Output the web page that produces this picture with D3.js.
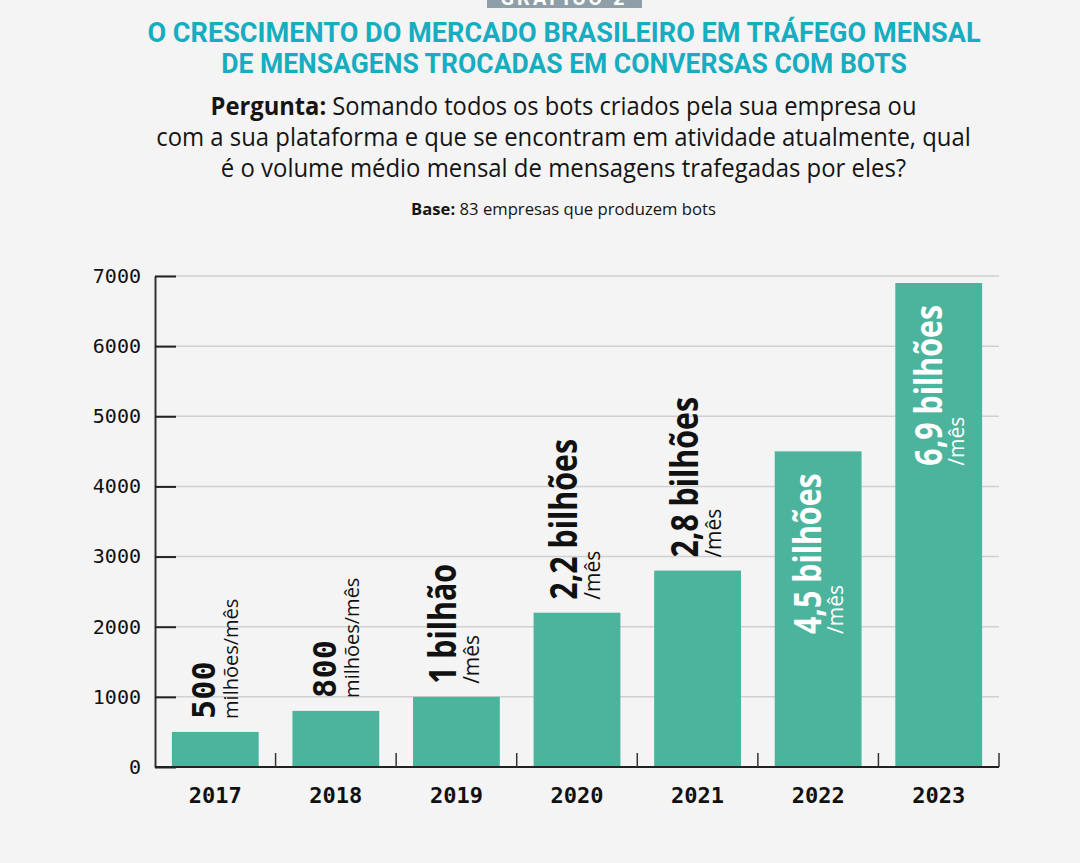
<!DOCTYPE html>
<html>
<head>
<meta charset="utf-8">
<script src="https://cdn.jsdelivr.net/npm/d3@7"></script>
<style>
  html, body { margin: 0; padding: 0; background: #f4f4f4; }
  svg { display: block; }
</style>
</head>
<body>
<svg id="chart" width="1080" height="863"></svg>
<script>
// ---- data ----
const years = ["2017", "2018", "2019", "2020", "2021", "2022", "2023"];
const values = [500, 800, 1000, 2200, 2800, 4500, 6900];
const bigLabels = ["500", "800", "1 bilhão", "2,2 bilhões", "2,8 bilhões", "4,5 bilhões", "6,9 bilhões"];
const unitLabels = ["milhões/mês", "milhões/mês", "/mês", "/mês", "/mês", "/mês", "/mês"];
const yTicks = [0, 1000, 2000, 3000, 4000, 5000, 6000, 7000];
const titleLines = ["O CRESCIMENTO DO MERCADO BRASILEIRO EM TRÁFEGO MENSAL",
                    "DE MENSAGENS TROCADAS EM CONVERSAS COM BOTS"];
const questionLines = [
  [["Pergunta:", true], [" Somando todos os bots criados pela sua empresa ou", false]],
  [["com a sua plataforma e que se encontram em atividade atualmente, qual", false]],
  [["é o volume médio mensal de mensagens trafegadas por eles?", false]]
];
const baseLine = [["Base:", true], [" 83 empresas que produzem bots", false]];
const badgeText = "GRÁFICO 2";

// ---- setup ----
const svg = d3.select("#chart");
svg.append("rect").attr("width", 1080).attr("height", 863).attr("fill", "#f4f4f4");

const TEAL = "#4cb39c";
const x = d3.scaleBand().domain(years).range([155, 999]).paddingInner(0.28).paddingOuter(0.14);
const y = d3.scaleLinear().domain([0, 7000]).range([767, 276]);

// badge at top (cropped by the page edge, as in the original)
svg.append("rect").attr("x", 487).attr("y", -20).attr("width", 155).attr("height", 28).attr("fill", "#8e9fa8");
svg.append("text").attr("x", 564).attr("y", 5).attr("text-anchor", "middle")
  .attr("font-family", "Roboto").attr("font-weight", 700).attr("font-size", 20)
  .attr("letter-spacing", 3).attr("fill", "#fff").text(badgeText);

function fitLine(g, cx, cy, target) {
  const w = g.node().getBBox().width;
  g.attr("transform", `translate(${cx},${cy}) scale(${target / w},1)`);
}

// title
const titleTargets = [834, 686];
titleLines.forEach((t, i) => {
  const g = svg.append("g");
  g.append("text").attr("text-anchor", "middle")
    .attr("font-family", "Roboto").attr("font-weight", 700).attr("font-size", 27)
    .attr("fill", "#17adc1").text(t);
  fitLine(g, 564, 42 + i * 30.5, titleTargets[i]);
});

// question
const qTargets = [706, 815, 686];
questionLines.forEach((parts, i) => {
  const g = svg.append("g");
  const t = g.append("text").attr("text-anchor", "middle")
    .attr("font-family", "Open Sans").attr("font-size", 25).attr("fill", "#151515");
  parts.forEach(p => t.append("tspan").attr("font-weight", p[1] ? 700 : 400).text(p[0]));
  fitLine(g, 563.5, 115 + i * 31, qTargets[i]);
});

// base
{
  const g = svg.append("g");
  const t = g.append("text").attr("text-anchor", "middle")
    .attr("font-family", "Open Sans").attr("font-size", 16).attr("fill", "#151515");
  baseLine.forEach(p => t.append("tspan").attr("font-weight", p[1] ? 700 : 400).text(p[0]));
  fitLine(g, 563.5, 215, 305);
}

// gridlines
svg.append("g").selectAll("line").data(yTicks.filter(d => d > 0)).join("line")
  .attr("x1", 155).attr("x2", 999)
  .attr("y1", d => y(d)).attr("y2", d => y(d))
  .attr("stroke", "#d0d0d0").attr("stroke-width", 1.5);

// bars
svg.append("g").selectAll("rect").data(years).join("rect")
  .attr("x", d => x(d)).attr("width", x.bandwidth())
  .attr("y", (d, i) => y(values[i])).attr("height", (d, i) => y(0) - y(values[i]))
  .attr("fill", TEAL);

// y axis
const yAxis = svg.append("g").attr("transform", "translate(155,0)")
  .call(d3.axisLeft(y).tickValues(yTicks).tickSize(-21).tickSizeOuter(0).tickPadding(14).tickFormat(d3.format("d")));
yAxis.select(".domain").attr("stroke", "#333").attr("stroke-width", 2);
yAxis.selectAll(".tick line").attr("stroke", "#222").attr("stroke-width", 2);
yAxis.selectAll(".tick text").attr("font-family", "DejaVu Sans Mono").attr("font-weight", 400)
  .attr("font-size", 20).attr("fill", "#111");

// x axis labels
const xAxis = svg.append("g").attr("transform", "translate(0,767)")
  .call(d3.axisBottom(x).tickSize(0).tickPadding(20));
xAxis.select(".domain").remove();
xAxis.selectAll(".tick text").attr("font-family", "DejaVu Sans Mono").attr("font-weight", 700)
  .attr("font-size", 22).attr("fill", "#111");

// baseline and boundary ticks
svg.append("line").attr("x1", 155).attr("x2", 999).attr("y1", 767).attr("y2", 767)
  .attr("stroke", "#222").attr("stroke-width", 2);
const gap = x.step() - x.bandwidth();
svg.append("g").selectAll("line").data(years).join("line")
  .attr("x1", d => x(d) + x.bandwidth() + gap / 2).attr("x2", d => x(d) + x.bandwidth() + gap / 2)
  .attr("y1", 767).attr("y2", 753).attr("stroke", "#333").attr("stroke-width", 1.5);

// value labels
const CONDENSE = 0.82;
years.forEach((yr, i) => {
  const cx = x(yr) + x.bandwidth() / 2;
  const top = y(values[i]);
  const isNum = /^\d+$/.test(bigLabels[i]);
  const g = svg.append("g");
  const big = g.append("text")
    .attr("font-family", isNum ? "DejaVu Sans Mono" : "Open Sans")
    .attr("font-weight", 700).attr("font-size", isNum ? 32 : 37)
    .text(bigLabels[i]);
  const scale = isNum ? 1 : CONDENSE;
  big.attr("transform", `scale(${scale},1)`);
  const L = big.node().getComputedTextLength() * scale;
  const small = g.append("text")
    .attr("font-family", "Open Sans").attr("font-size", isNum ? 20 : 21)
    .attr("y", 23).text(unitLabels[i]);
  const inside = (y(0) - top) > L + 40;
  let startY, dx, color;
  if (inside) {
    startY = top + 22 + L; dx = 3; color = "#ffffff";
    small.attr("y", 22);
  } else {
    startY = top - 13; dx = 0; color = "#111111";
  }
  g.selectAll("text").attr("fill", color);
  g.attr("transform", `translate(${cx + dx},${startY}) rotate(-90)`);
});
</script>
</body>
</html>
